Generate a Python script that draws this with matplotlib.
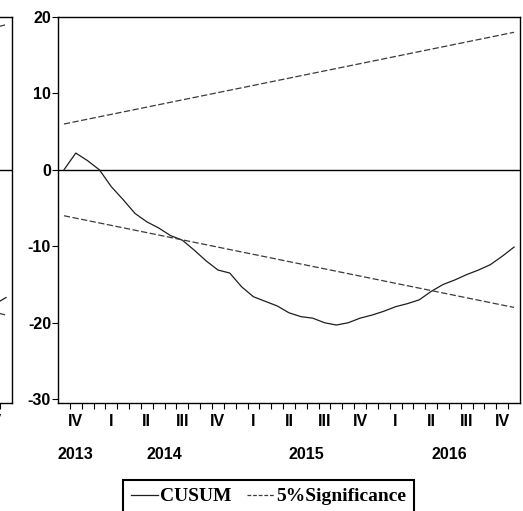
import matplotlib.pyplot as plt
from matplotlib.lines import Line2D

# CUSUM test, monthly obs Oct 2013 .. Dec 2016
cusum = [0.0, 2.2, 1.2, 0.0, -2.2, -3.9, -5.7, -6.8, -7.6, -8.6,
         -9.2, -10.5, -11.9, -13.1, -13.5, -15.3, -16.6, -17.2, -17.8, -18.7,
         -19.2, -19.4, -20.0, -20.3, -20.0, -19.4, -19.0, -18.5, -17.9, -17.5,
         -17.0, -15.9, -15.0, -14.4, -13.7, -13.1, -12.4, -11.3, -10.1]
band_months = [0, 38]
upper_band = [6.0, 18.0]
lower_band = [-6.0, -18.0]

quarter_labels = ['IV', 'I', 'II', 'III', 'IV', 'I', 'II', 'III', 'IV',
                  'I', 'II', 'III', 'IV']
year_labels = ['2013', '2014', '2015', '2016']
year_months = [(0, 2), (3, 14), (15, 26), (27, 38)]
yticks = [20, 10, 0, -10, -20, -30]

# end of the neighbouring panel that is cut off at the left edge
nb_months = [37, 38]
nb_cusum = [-17.6, -16.7]
nb_upper = [18.6, 19.0]
nb_lower = [-18.6, -19.0]

W, H = 523, 511
def px_box(l, t, r, b):
    return [l / W, 1 - b / H, (r - l) / W, (b - t) / H]

lbl_font = dict(family='Liberation Sans', weight='bold', size=11.5)
line_col = '#1e1e1e'
dash_col = '#3a3a3a'

fig = plt.figure(figsize=(W / 100, H / 100), dpi=100)

def setup(ax, n):
    ax.set_xlim(-0.5, n - 0.5)
    ax.set_ylim(-30.5, 20)
    ax.axhline(0, color='black', lw=1.0, zorder=1)
    ax.set_xticks([m + 0.5 for m in range(n - 1)])
    ax.set_xticklabels([])
    ax.tick_params(axis='x', direction='out', length=4, width=0.8)
    for s in ax.spines.values():
        s.set_linewidth(1.0)

def quarter_text(ax, i, q):
    ax.annotate(q, xy=(1 + 3 * i, 0), xycoords=('data', 'axes fraction'),
                xytext=(0, -18), textcoords='offset pixels',
                ha='center', va='center', **lbl_font)

# neighbour panel (only its right edge is visible)
lax = fig.add_axes(px_box(-450, 17, 12, 403))
setup(lax, len(cusum))
lax.plot(nb_months, nb_cusum, color=line_col, lw=0.9)
lax.plot(nb_months, nb_upper, color=dash_col, lw=0.9, dashes=(5, 2))
lax.plot(nb_months, nb_lower, color=dash_col, lw=0.9, dashes=(5, 2))
lax.set_yticks([])
quarter_text(lax, len(quarter_labels) - 1, quarter_labels[-1])

# main panel
ax = fig.add_axes(px_box(58, 17, 520, 403))
setup(ax, len(cusum))
ax.plot(range(len(cusum)), cusum, color=line_col, lw=0.9)
ax.plot(band_months, upper_band, color=dash_col, lw=0.9, dashes=(5, 2))
ax.plot(band_months, lower_band, color=dash_col, lw=0.9, dashes=(5, 2))

ax.set_yticks(yticks)
ax.set_yticklabels([str(v) for v in yticks], **lbl_font)
ax.tick_params(axis='y', direction='out', length=4, width=0.8, pad=1)

for i, q in enumerate(quarter_labels):
    quarter_text(ax, i, q)

for yr, (a, b) in zip(year_labels, year_months):
    ax.annotate(yr, xy=((a + b) / 2, 0), xycoords=('data', 'axes fraction'),
                xytext=(0, -51), textcoords='offset pixels',
                ha='center', va='center', **lbl_font)

handles = [Line2D([], [], color=line_col, lw=0.9),
           Line2D([], [], color=dash_col, lw=0.9, dashes=(3, 1.5))]
leg = fig.legend(handles, ['CUSUM', '5%Significance'], loc='upper left',
                 bbox_to_anchor=(123 / W, 1 - 480 / H), ncol=2,
                 prop=dict(family='Liberation Serif', weight='bold', size=14),
                 frameon=True, fancybox=False, edgecolor='black', framealpha=1,
                 borderaxespad=0, handlelength=1.4, handletextpad=0.1,
                 columnspacing=0.8, borderpad=0.4)
leg.get_frame().set_linewidth(1.5)

fig.savefig('out.png', dpi=100)
